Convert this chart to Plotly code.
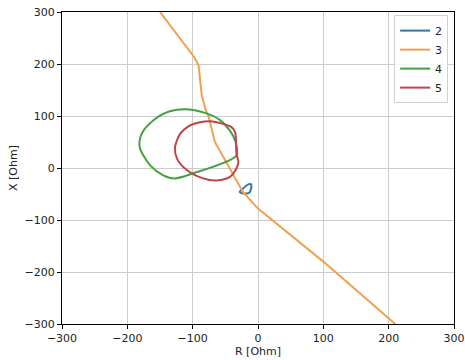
import plotly.graph_objects as go

# Trajectory data (R, X in Ohm)
r2 = [-28, -24, -19, -14, -11, -10, -11, -13, -17, -22, -26, -28]
x2 = [-46, -41, -35, -31, -31, -35, -41, -47, -49, -49, -48, -46]

r3 = [-150, -97, -91, -86, -80, -76, -66, -23, 0, 100, 210]
x3 = [300, 212, 197, 140, 111, 101, 50, -46, -78, -180, -300]

r4 = [-33, -101, -127, -145, -165, -181, -178, -160, -135, -109, -79, -58, -43, -35, -33]
x4 = [24, -11, -20, -14, 5, 40, 66, 92, 109, 113, 105, 92, 72, 53, 24]

r5 = [-73, -41, -35, -33, -30, -33, -43, -63, -84, -109, -124, -127, -119, -104, -89, -73]
x5 = [90, 79, 69, 28, 11, -1, -17, -24, -20, -4, 18, 40, 66, 82, 88, 90]

names = ["2", "3", "4", "5"]
colors = ["#3277a8", "#f0a050", "#45a045", "#c04448"]
shapes = ["spline", "linear", "spline", "spline"]

tick_vals = [-300, -200, -100, 0, 100, 200, 300]

fig = go.Figure()
for name, rr, xx, c, sh in zip(names, [r2, r3, r4, r5], [x2, x3, x4, x5], colors, shapes):
    fig.add_trace(go.Scatter(x=rr, y=xx, mode="lines", name=name,
                             line=dict(color=c, width=2, shape=sh, smoothing=0.8)))

axis_common = dict(
    range=[-300, 300], tickvals=tick_vals,
    showgrid=True, gridcolor="#cccccc", gridwidth=1,
    showline=True, linecolor="black", linewidth=1, mirror=True,
    ticks="outside", ticklen=4, tickcolor="black",
    zeroline=False, automargin=False, ticklabeloverflow="allow",
    tickfont=dict(family="DejaVu Sans", size=11, color="#222"),
)

fig.update_layout(
    width=465, height=360,
    margin=dict(l=62, r=11, t=12, b=36),
    paper_bgcolor="white", plot_bgcolor="white",
    font=dict(family="DejaVu Sans", size=11, color="#222"),
    xaxis=dict(**axis_common, title=dict(text="R [Ohm]", standoff=2,
                                         font=dict(size=11))),
    yaxis=dict(**axis_common, title=dict(text="X [Ohm]", standoff=4,
                                         font=dict(size=11))),
    legend=dict(x=0.985, xanchor="right", y=0.99, yanchor="top",
                bgcolor="rgba(255,255,255,0.8)", bordercolor="#d0d0d0",
                borderwidth=1, font=dict(size=11)),
)

fig.write_html("out.html", config={"displayModeBar": False},
               post_script="document.body.style.margin='0';")
